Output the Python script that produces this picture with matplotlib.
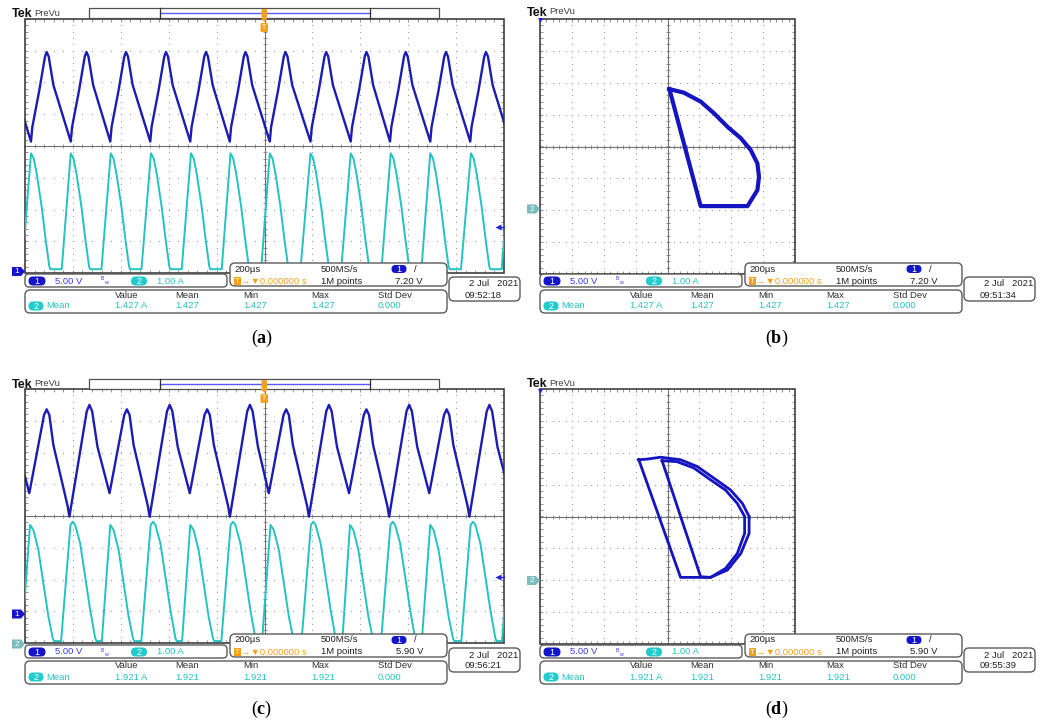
import numpy as np
import matplotlib.pyplot as plt
from matplotlib.patches import FancyBboxPatch, Polygon, Rectangle
from matplotlib.collections import LineCollection

plt.rcParams['font.family'] = ['Liberation Sans', 'DejaVu Sans']
plt.rcParams['mathtext.fontset'] = 'custom'
plt.rcParams['mathtext.rm'] = 'Liberation Serif'
plt.rcParams['mathtext.bf'] = 'Liberation Serif:bold'

W, H = 1046, 721

# ---- values read off the four scope captures ----
# (a) YT: CH1 voltage in V, CH2 current in A, time in us (200 us/div)
a_v_dt = [0, 5.6, 34.9, 58.6, 65.6, 73.9, 93.5, 166]
a_v = [20.7, 23.0, 28.8, 34.1, 34.8, 34.1, 29.6, 20.7]
a_v_starts = [-141, 25, 191, 356, 523, 690, 855, 1022, 1192, 1360, 1524, 1692, 1859]
a_i_dt = [0, 11.2, 23.7, 44.6, 61.4, 76.7, 80.9, 128.3, 166]
a_i = [3.77, 3.61, 3.14, 2.09, 1.04, 0.20, 0.12, 0.12, 3.77]
a_i_starts = [-141, 25, 191, 358, 526, 693, 858, 1022, 1192, 1360, 1527, 1692, 1862]

# (c) YT: two unequal half-periods per cycle
c_v_dt = [0, 61.4, 72.5, 83.7, 100.4, 160.4, 167.4, 239.9, 251.1, 262.3, 284.6, 334.8]
c_v = [19.0, 31.3, 32.2, 31.3, 26.6, 16.9, 15.3, 31.9, 32.9, 31.9, 26.3, 19.0]
c_v_starts = [-317, 18, 353, 688, 1018, 1353, 1688]
c_i_dt = [0, 14.0, 34.9, 55.8, 76.7, 94.9, 100.4, 129.7, 168.8, 178.6, 188.3,
          209.3, 230.2, 251.1, 272.0, 277.6, 299.9, 334.8]
c_i = [3.72, 3.56, 2.93, 1.88, 0.83, 0.15, 0.06, 0.06, 3.72, 3.82, 3.72,
       3.14, 2.09, 1.04, 0.15, 0.06, 0.06, 3.72]
c_i_starts = [-314, 21, 356, 690, 1025, 1357, 1692]

# (b) XY loop: CH1 voltage (V) vs CH2 current (A)
b_v = [20.3, 22.55, 25.2, 27.3, 29.4, 31.5, 33.05, 34.1, 34.35, 34.1, 32.55, 25.2, 20.3]
b_i = [3.77, 3.66, 3.38, 3.01, 2.59, 2.23, 1.86, 1.44, 1.02, 0.60, 0.10, 0.10, 3.77]

# (d) XY: outer and inner loop
d_v_out = [15.5, 22.05, 26.75, 29.4, 31.5, 32.8, 32.8, 31.75, 29.9, 27.3, 24.65, 22.05, 18.9, 16.8, 15.5]
d_i_out = [3.79, 0.10, 0.10, 0.33, 0.85, 1.48, 2.01, 2.42, 2.84, 3.21, 3.58, 3.79, 3.87, 3.81, 3.79]
d_v_in = [19.15, 25.2, 26.75, 29.1, 30.95, 32.1, 32.1, 30.95, 29.1, 26.75, 24.15, 21.5, 19.15]
d_i_in = [3.76, 0.12, 0.10, 0.38, 0.85, 1.48, 2.01, 2.42, 2.84, 3.16, 3.53, 3.73, 3.76]

panels = ['a', 'b', 'c', 'd']
trig_levels = ['7.20 V', '7.20 V', '5.90 V', '5.90 V']
means = ['1.427', '1.427', '1.921', '1.921']
dates = ['09:52:18', '09:51:34', '09:56:21', '09:55:39']

BLUE = '#1c1cb4'
CYAN = '#26c2c2'
ORANGE = '#f4a01c'


def tile(starts, dt, vals):
    ts, vs = [], []
    for k, s in enumerate(starts):
        n = len(dt) if k == len(starts) - 1 else len(dt) - 1
        ts += [s + d for d in dt[:n]]
        vs += list(vals[:n])
    return np.array(ts), np.array(vs)


fig = plt.figure(figsize=(W / 100, H / 100), dpi=100)
fig.patch.set_facecolor('white')


def pax(x0, y0, x1, y1):
    return fig.add_axes([x0 / W, 1 - y1 / H, (x1 - x0) / W, (y1 - y0) / H])


def graticule(ax, xa, xb, wpx, hpx):
    ax.set_xlim(xa, xb)
    ax.set_ylim(-4, 4)
    ax.axis('off')
    kx = (xb - xa) / wpx
    ky = 8 / hpx
    xc = (xa + xb) / 2
    # dotted grid
    for gx in range(int(xa) + 1, int(xb)):
        if gx == xc:
            continue
        yy = np.arange(-4, 4.01, 0.2)
        ax.plot(np.full_like(yy, gx), yy, ls='none', marker='o', ms=0.8, mew=0,
                color='#8c8c8c', zorder=1)
    for gy in range(-3, 4):
        if gy == 0:
            continue
        xx = np.arange(xa, xb + 0.01, 0.2)
        ax.plot(xx, np.full_like(xx, gy), ls='none', marker='o', ms=0.8, mew=0,
                color='#8c8c8c', zorder=1)
    ax.plot([xa, xb], [0, 0], color='#707070', lw=0.8, zorder=1)
    ax.plot([xc, xc], [-4, 4], color='#707070', lw=0.8, zorder=1)
    segs = []
    for x in np.arange(xa, xb + 0.01, 0.2):
        segs.append([(x, -2 * ky), (x, 2 * ky)])
        segs.append([(x, 4), (x, 4 - 3 * ky)])
        segs.append([(x, -4), (x, -4 + 3 * ky)])
    for y in np.arange(-4, 4.01, 0.2):
        segs.append([(xc - 2 * kx, y), (xc + 2 * kx, y)])
        segs.append([(xa, y), (xa + 3 * kx, y)])
        segs.append([(xb, y), (xb - 3 * kx, y)])
    ax.add_collection(LineCollection(segs, colors='#808080', lw=0.6, zorder=1))
    ax.add_patch(Rectangle((xa, -4), xb - xa, 8, fill=False, ec='#404040', lw=1.2, zorder=2, clip_on=False))


# graticules and traces
ax_a = pax(25, 19, 504, 273)
ax_c = pax(25, 389, 504, 643)
ax_b = pax(540, 19, 795, 274)
ax_d = pax(540, 389, 795, 644)
for ax in (ax_a, ax_c):
    graticule(ax, 0, 10, 479, 254)
for ax in (ax_b, ax_d):
    graticule(ax, -4, 4, 255, 255)

t, v = tile(a_v_starts, a_v_dt, a_v)
ti, i = tile(a_i_starts, a_i_dt, a_i)
ax_a.plot(ti / 200, i - 4, color=CYAN, lw=1.4, zorder=3)
ax_a.plot(t / 200, v / 5 - 4, color=BLUE, lw=1.7, zorder=4)

t, v = tile(c_v_starts, c_v_dt, c_v)
ti, i = tile(c_i_starts, c_i_dt, c_i)
ax_c.plot(ti / 200, i - 4, color=CYAN, lw=1.4, zorder=3)
ax_c.plot(t / 200, v / 5 - 3.08, color=BLUE, lw=1.7, zorder=4)

ax_b.plot(np.array(b_v) / 5 - 4, np.array(b_i) - 1.97, color='#1414c0', lw=3.0, zorder=4)
ax_d.plot(np.array(d_v_out) / 5 - 4, np.array(d_i_out) - 2.01, color='#1414c0', lw=2.0, zorder=4)
ax_d.plot(np.array(d_v_in) / 5 - 4, np.array(d_i_in) - 2.01, color='#1414c0', lw=2.0, zorder=4)

# overlay in pixel coordinates for readouts and markers
ov = fig.add_axes([0, 0, 1, 1], zorder=5)
ov.set_xlim(0, W)
ov.set_ylim(H, 0)
ov.axis('off')


def rbox(x0, y0, x1, y1, r=5):
    ov.add_patch(FancyBboxPatch((x0, y0), x1 - x0, y1 - y0, boxstyle=f"round,pad=0,rounding_size={r}",
                                fc='white', ec='#5a5a5a', lw=1.0, zorder=6))


def pill(x, y, w, h, fc, label, fs=6.5):
    ov.add_patch(FancyBboxPatch((x - w / 2, y - h / 2), w, h, boxstyle=f"round,pad=0,rounding_size={h / 2}",
                                fc=fc, ec='none', zorder=7))
    ov.text(x, y + 0.3, label, color='white', fontsize=fs, ha='center', va='center', zorder=8)


def txt(x, y, s, c='#202020', fs=6.8, ha='left', **kw):
    ov.text(x, y, s, color=c, fontsize=fs, ha=ha, va='center', zorder=8, **kw)


def chmark(xr, y, fc, label, tc='white'):
    ov.add_patch(Polygon([(xr - 13, y - 4.5), (xr - 4, y - 4.5), (xr, y), (xr - 4, y + 4.5), (xr - 13, y + 4.5)],
                         closed=True, fc=fc, ec='none', zorder=7))
    txt(xr - 8.5, y + 0.3, label, c=tc, fs=6, ha='center')


def tek(x, y):
    txt(x, y, 'Tek', c='#111111', fs=9, fontweight='bold')
    txt(x + 22, y - 1, 'PreVu', c='#404040', fs=6.8)


def readout(ox, oy, trig, mean, clock):
    rbox(25 + ox, 274 + oy, 227 + ox, 287 + oy, 4)
    rbox(230 + ox, 263 + oy, 447 + ox, 286 + oy)
    rbox(25 + ox, 290 + oy, 447 + ox, 313 + oy)
    rbox(449 + ox, 277 + oy, 520 + ox, 301 + oy)
    # channel settings
    pill(37 + ox, 281 + oy, 17, 9, '#1414c8', '1')
    txt(55 + ox, 281 + oy, '5.00 V', c='#3c3ce6')
    txt(101 + ox, 279 + oy, 'B', c='#3c3ce6', fs=3.8)
    txt(104 + ox, 283 + oy, 'w', c='#3c3ce6', fs=3.8)
    pill(139 + ox, 281 + oy, 16, 9, '#22cccc', '2')
    txt(157 + ox, 281 + oy, '1.00 A', c=CYAN)
    # timebase / trigger
    txt(234 + ox, 269 + oy, '200\u00b5s')
    txt(321 + ox, 269 + oy, '500MS/s')
    pill(399 + ox, 269 + oy, 15, 8, '#1414c8', '1')
    txt(414 + ox, 269 + oy, '/')
    ov.add_patch(Rectangle((234 + ox, 277 + oy), 7, 8, fc=ORANGE, ec='none', zorder=7))
    txt(237.5 + ox, 281.3 + oy, 'T', c='white', fs=5.5, ha='center')
    txt(241 + ox, 281 + oy, '\u2192\u25bc0.000000 s', c=ORANGE)
    txt(321 + ox, 281 + oy, '1M points')
    txt(423 + ox, 281 + oy, trig, ha='right')
    # measurement table
    for x, s in zip([115, 175, 243, 311, 378], ['Value', 'Mean', 'Min', 'Max', 'Std Dev']):
        txt(x + ox, 295 + oy, s, c='#303030')
    pill(36 + ox, 306 + oy, 15, 9, '#22cccc', '2')
    txt(46 + ox, 306 + oy, 'Mean', c=CYAN)
    for x, s in zip([115, 175, 243, 311, 378], [mean + ' A', mean, mean, mean, '0.000']):
        txt(x + ox, 306 + oy, s, c=CYAN)
    # date
    txt(518 + ox, 284 + oy, '2 Jul   2021', ha='right')
    txt(465 + ox, 295 + oy, clock)


# YT panels: header bar, markers
for oy, trig_y, ch1_y, show2 in [(0, 227, 271.5, False), (371, 576.5, 614, True)]:
    tek(12, 14 + oy)
    ov.add_patch(Rectangle((89, 8 + oy), 350, 10, fc='white', ec='#505050', lw=0.9, zorder=6))
    ov.plot([160, 370], [12.5 + oy, 12.5 + oy], color='#5a5aff', lw=1.0, zorder=7)
    ov.plot([160, 160], [8 + oy, 18 + oy], color='#303030', lw=0.9, zorder=7)
    ov.plot([370, 370], [8 + oy, 18 + oy], color='#303030', lw=0.9, zorder=7)
    ov.add_patch(FancyBboxPatch((261.5, 9 + oy), 5.5, 9, boxstyle="round,pad=0,rounding_size=1.5",
                                fc=ORANGE, ec='none', zorder=8))
    ov.add_patch(Polygon([(261, 18 + oy), (267.5, 18 + oy), (264.2, 22 + oy)], fc=ORANGE, ec='none', zorder=8))
    ov.add_patch(FancyBboxPatch((260.5, 23 + oy), 7.5, 9, boxstyle="round,pad=0,rounding_size=1.5",
                                fc=ORANGE, ec='none', zorder=8))
    txt(264.2, 27.8 + oy, 'T', c='white', fs=5, ha='center')
    ov.plot([498, 504], [trig_y, trig_y], color='#2020e0', lw=1.0, zorder=8)
    ov.plot([498], [trig_y], marker='<', ms=4.5, color='#2020e0', mec='none', zorder=8)
    chmark(25, ch1_y, '#1414c8', '1')
    if show2:
        chmark(25, 644, '#7cbcbc', '2')

# XY panels
for oy, ch2_y in [(0, 209), (371, 580.5)]:
    tek(527, 13 + oy)
    ov.plot([540], [20 + oy], marker='v', ms=3.5, color='#2020e0', mec='none', zorder=8)
    chmark(540, ch2_y, '#7cbcbc', '2')

for k, p in enumerate(panels):
    ox = 0 if p in 'ac' else 515
    oy = 0 if p in 'ab' else 371
    readout(ox, oy, trig_levels[k], means[k], dates[k])
    ov.text(262 + ox, 338 + oy, '($\\mathbf{' + p + '}$)', fontsize=13, ha='center', va='center',
            family='Liberation Serif', zorder=8)

fig.savefig('out.png', dpi=100)
